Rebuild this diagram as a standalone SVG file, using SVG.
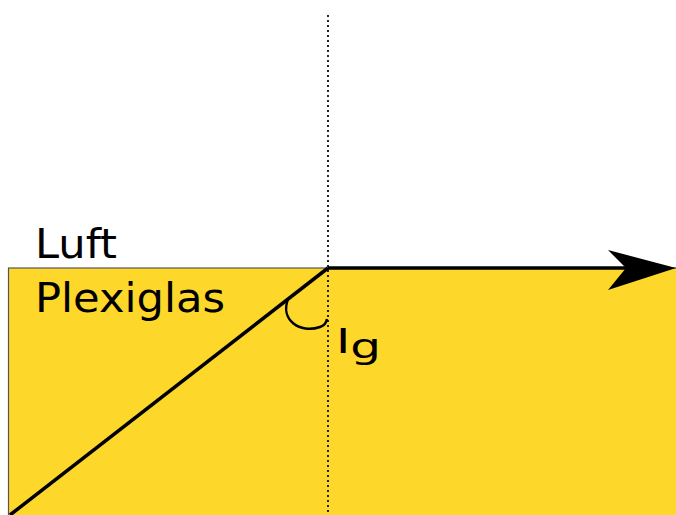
<svg xmlns="http://www.w3.org/2000/svg" width="676" height="515" viewBox="0 0 676 515">
<style>
.lbl{font-family:"DejaVu Sans",sans-serif;fill:#000}
.ray{stroke:#000;stroke-width:3.5;fill:none}
</style>
<rect x="0" y="0" width="676" height="515" fill="#fff"/>
<g id="plexiglas">
<rect x="8.5" y="268" width="680" height="260" fill="#fdd72a" stroke="#555" stroke-width="1.2"/>
</g>
<g id="normal">
<line x1="328" y1="15" x2="328" y2="515" stroke="#222" stroke-width="2" stroke-dasharray="2,3"/>
</g>
<g id="connectors">
<line class="ray" x1="10" y1="515" x2="328" y2="268"/>
<line class="ray" x1="328" y1="268" x2="630" y2="268"/>
<path d="M676 268 L608 250 L626 268 L608 290 Z" fill="#000"/>
<path class="ray" d="M288 299 C 280 320, 300 334, 320 327 Q 326 325 327 319" style="stroke-width:2.5"/>
</g>
<g id="labels">
<text class="lbl" x="35" y="258" font-size="41" textLength="82" lengthAdjust="spacingAndGlyphs">Luft</text>
<text class="lbl" x="35" y="312" font-size="41" textLength="190" lengthAdjust="spacingAndGlyphs">Plexiglas</text>
<text class="lbl" x="336" y="353" font-size="34" textLength="45" lengthAdjust="spacingAndGlyphs">I<tspan dy="5">g</tspan></text>
</g>
</svg>
